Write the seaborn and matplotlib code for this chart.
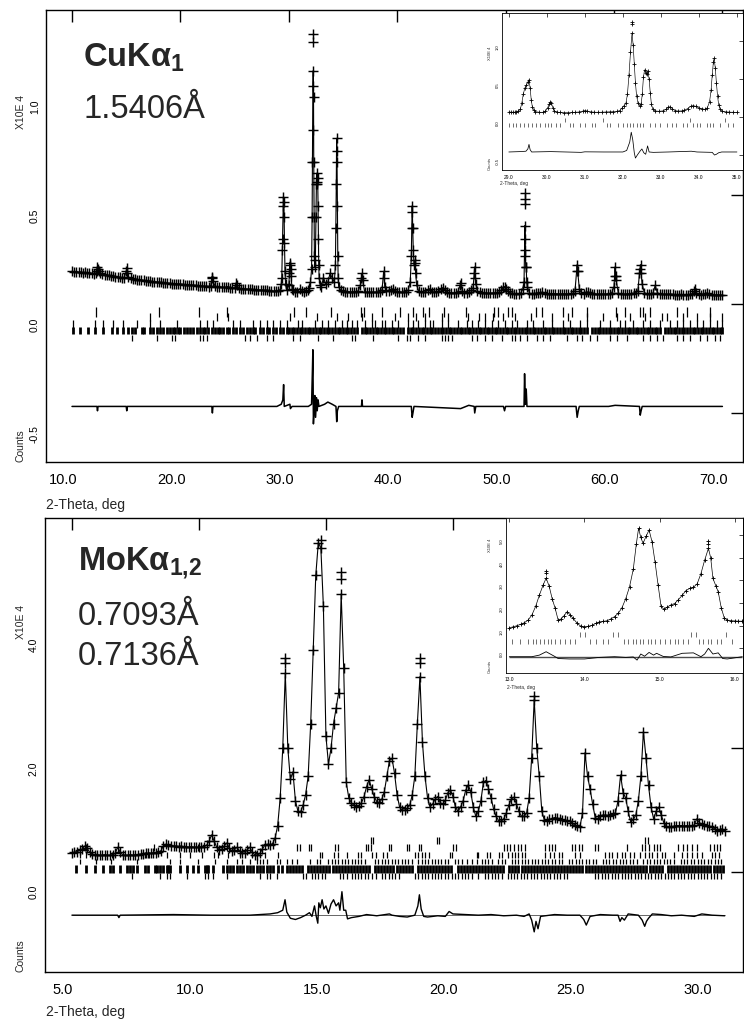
import numpy as np
import pandas as pd
import matplotlib
matplotlib.use("Agg")
import matplotlib.pyplot as plt
import matplotlib.transforms as mtransforms
import seaborn as sns

##### Data (intensities in units of 10^4 counts) ############################

# CuKa1 step scan, 10-70 deg every 0.2 deg
cu_start, cu_step = 10.0, 0.2
cu_counts = [
    0.150, 0.148, 0.149, 0.146, 0.147, 0.144, 0.145, 0.142, 0.143, 0.140,
    0.139, 0.141, 0.160, 0.142, 0.136, 0.134, 0.133, 0.131, 0.129, 0.128,
    0.126, 0.124, 0.123, 0.121, 0.120, 0.150, 0.125, 0.117, 0.116, 0.114,
    0.112, 0.111, 0.110, 0.108, 0.107, 0.106, 0.105, 0.103, 0.102, 0.101,
    0.100, 0.099, 0.098, 0.097, 0.096, 0.095, 0.094, 0.094, 0.093, 0.092,
    0.091, 0.090, 0.089, 0.088, 0.088, 0.087, 0.086, 0.085, 0.084, 0.083,
    0.082, 0.081, 0.081, 0.080, 0.084, 0.105, 0.082, 0.079, 0.078, 0.077,
    0.076, 0.076, 0.080, 0.075, 0.074, 0.074, 0.088, 0.073, 0.071, 0.070,
    0.069, 0.068, 0.068, 0.067, 0.066, 0.065, 0.064, 0.064, 0.063, 0.062,
    0.063, 0.061, 0.060, 0.059, 0.060, 0.060, 0.066, 0.250, 0.280, 0.062,
    0.085, 0.130, 0.062, 0.056, 0.057, 0.070, 0.058, 0.056, 0.058, 0.062,
    0.100, 0.800, 0.170, 0.560, 0.120, 0.080, 0.120, 0.090, 0.100, 0.140,
    0.120, 0.100, 0.700, 0.080, 0.062, 0.058, 0.057, 0.056, 0.056, 0.055,
    0.055, 0.056, 0.060, 0.085, 0.110, 0.056, 0.054, 0.054, 0.053, 0.054,
    0.054, 0.055, 0.057, 0.065, 0.120, 0.060, 0.058, 0.062, 0.070, 0.060,
    0.056, 0.055, 0.054, 0.055, 0.057, 0.062, 0.100, 0.420, 0.190, 0.085,
    0.058, 0.055, 0.053, 0.054, 0.065, 0.070, 0.054, 0.053, 0.055, 0.058,
    0.068, 0.075, 0.066, 0.056, 0.052, 0.051, 0.050, 0.051, 0.056, 0.085,
    0.060, 0.052, 0.051, 0.055, 0.062, 0.075, 0.120, 0.060, 0.053, 0.051,
    0.050, 0.050, 0.049, 0.049, 0.050, 0.050, 0.052, 0.055, 0.065, 0.078,
    0.070, 0.058, 0.052, 0.049, 0.048, 0.048, 0.048, 0.050, 0.070, 0.300,
    0.080, 0.050, 0.048, 0.048, 0.049, 0.050, 0.052, 0.055, 0.050, 0.048,
    0.047, 0.047, 0.048, 0.047, 0.046, 0.046, 0.046, 0.047, 0.046, 0.046,
    0.047, 0.049, 0.060, 0.180, 0.070, 0.050, 0.048, 0.053, 0.055, 0.050,
    0.046, 0.046, 0.045, 0.045, 0.045, 0.046, 0.045, 0.046, 0.048, 0.052,
    0.080, 0.110, 0.050, 0.046, 0.045, 0.045, 0.046, 0.047, 0.048, 0.050,
    0.052, 0.060, 0.160, 0.090, 0.052, 0.048, 0.046, 0.046, 0.050, 0.085,
    0.052, 0.046, 0.045, 0.044, 0.044, 0.044, 0.045, 0.044, 0.043, 0.043,
    0.043, 0.044, 0.043, 0.043, 0.043, 0.044, 0.046, 0.060, 0.052, 0.044,
    0.043, 0.044, 0.046, 0.052, 0.045, 0.043, 0.043, 0.042, 0.042, 0.041,
    0.041,
]
# extra points read inside the sharp Cu peaks
cu_peak_tth = [
    12.3, 12.35, 12.45, 15.05, 15.1, 22.9, 22.95, 25.15,
    29.3, 29.35, 29.42, 29.47, 29.5, 29.53, 29.57, 29.65, 29.7,
    30.05, 30.1, 30.13, 30.16, 30.3,
    31.9, 32.1, 32.15, 32.18, 32.22, 32.25, 32.28, 32.3, 32.33, 32.36,
    32.45, 32.5, 32.53, 32.56, 32.63, 32.66, 32.7, 32.73, 32.76, 32.9,
    34.3, 34.34, 34.38, 34.42, 34.45, 34.48, 34.52, 34.55,
    36.7, 36.75, 38.75, 38.85,
    41.3, 41.35, 41.38, 41.43, 41.48, 41.55, 41.65, 41.7,
    45.85, 47.1, 47.15, 47.25, 49.9,
    51.7, 51.75, 51.78, 51.82, 51.86, 51.9, 51.95,
    56.55, 56.65, 60.05, 60.1, 60.15, 62.35, 62.45, 62.5, 67.5,
]
cu_peak_counts = [
    0.150, 0.170, 0.150, 0.165, 0.140, 0.125, 0.118, 0.098,
    0.090, 0.120, 0.300, 0.450, 0.490, 0.470, 0.400, 0.150, 0.090,
    0.140, 0.190, 0.180, 0.160, 0.070,
    0.075, 0.160, 0.400, 0.650, 1.000, 1.070, 0.950, 0.650, 0.400, 0.220,
    0.200, 0.400, 0.550, 0.600, 0.550, 0.580, 0.450, 0.300, 0.180, 0.085,
    0.180, 0.350, 0.550, 0.760, 0.650, 0.450, 0.220, 0.120,
    0.120, 0.140, 0.150, 0.080,
    0.220, 0.350, 0.450, 0.350, 0.250, 0.180, 0.200, 0.140,
    0.095, 0.140, 0.170, 0.090, 0.080,
    0.100, 0.250, 0.360, 0.220, 0.170, 0.170, 0.100,
    0.150, 0.150, 0.130, 0.170, 0.130, 0.140, 0.180, 0.140, 0.070,
]
# observed points standing above the calculated curve
cu_high_tth = [32.25, 32.25, 51.78, 51.78, 51.78]
cu_high_counts = [1.24, 1.20, 0.51, 0.48, 0.46]

cu_diff_tth = [
    10.0, 12.3, 12.35, 12.4, 15.0, 15.05, 15.1, 22.9, 22.95, 23.0, 28.9, 29.3,
    29.45, 29.52, 29.58, 30.1, 30.15, 30.3, 31.8, 32.1, 32.18, 32.22, 32.27,
    32.32, 32.4, 32.47, 32.55, 32.62, 32.7, 32.78, 33.3, 33.6, 34.0, 34.35,
    34.42, 34.48, 34.6, 36.7, 36.75, 36.8, 41.3, 41.38, 41.45, 41.55, 45.85,
    46.6, 47.1, 47.15, 47.25, 49.8, 49.9, 50.0, 51.7, 51.75, 51.82, 51.9,
    51.97, 56.5, 56.6, 56.7, 56.8, 59.5, 60.1, 62.35, 62.42, 62.5, 62.6, 70.0,
]
cu_diff = [
    -0.47, -0.47, -0.49, -0.47, -0.47, -0.49, -0.47, -0.47, -0.50, -0.47, -0.47, -0.46,
    -0.44, -0.37, -0.47, -0.46, -0.48, -0.47, -0.47, -0.46, -0.30, -0.21, -0.55,
    -0.50, -0.42, -0.52, -0.43, -0.49, -0.44, -0.47, -0.46, -0.45, -0.46, -0.47,
    -0.54, -0.49, -0.47, -0.47, -0.44, -0.47, -0.47, -0.52, -0.50, -0.47, -0.48,
    -0.465, -0.47, -0.50, -0.47, -0.47, -0.49, -0.47, -0.47, -0.32, -0.46, -0.39,
    -0.47, -0.47, -0.52, -0.49, -0.47, -0.47, -0.465, -0.47, -0.51, -0.49, -0.47, -0.47,
]

# reflection markers, one list per row of ticks
cu_hkl_a = [12.2, 18.05, 21.75, 24.3, 30.5, 31.6, 33.9, 36.7, 36.9, 38.6, 40.3,
            41.5, 42.4, 42.9, 44.3, 46.3, 48.9, 49.3, 50.2, 50.6, 52.8, 53.4,
            55.3, 56.1, 57.5, 60.2, 61.0, 62.4, 62.7, 63.3, 65.8, 66.7, 68.9]
cu_hkl_b = [17.2, 23.4, 24.4, 30.1, 32.6, 34.4, 35.5, 36.75, 37.7, 39.8, 41.0,
            41.7, 42.6, 44.1, 44.7, 46.5, 47.5, 48.1, 48.8, 49.8, 50.9, 52.3,
            54.3, 55.8, 57.5, 59.0, 60.3, 61.5, 62.9, 64.4, 64.9, 66.4, 67.7,
            68.9, 70.0]
cu_hkl_c = [10.06, 12.12, 12.89, 13.81, 14.74, 15.97, 17.2, 18.12, 19.66, 21.81,
            22.42, 23.04, 24.88, 25.5, 26.73, 27.34, 27.96, 28.57, 29.19, 29.8,
            30.88, 31.19, 32.42, 33.03, 33.65, 34.26, 34.88, 35.34, 35.8, 36.26,
            37.03, 37.65, 37.95, 38.57, 38.88, 39.49, 40.11, 41.03, 41.49, 41.95,
            42.56, 43.03, 43.33, 44.1, 44.72, 45.64, 46.41, 46.87, 47.48, 48.1,
            48.72, 49.33, 49.95, 50.56, 51.03, 51.95, 52.56, 53.49, 54.25, 55.33,
            55.95, 56.87, 57.48, 58.71, 59.63, 60.56, 61.02, 61.79, 62.71, 63.33,
            64.25, 65.17, 65.79, 66.4, 67.02, 67.63, 68.25, 68.86, 69.48, 69.94]
cu_hkl_d = [10.06, 10.74, 11.45, 12.13, 12.86, 13.67, 14.13, 14.71, 15.17, 15.51,
            15.81, 16.44, 16.6, 17.2, 17.5, 17.82, 18.08, 18.4, 18.73, 19.03,
            19.3, 19.5, 19.8, 19.96, 20.3, 20.57, 20.9, 21.16, 21.5, 21.8,
            22.08, 22.3, 22.55, 22.9, 23.19, 23.45, 23.65, 23.9, 24.27, 24.5,
            24.85, 25.1, 25.5, 25.8, 26.12, 26.4, 26.7, 26.9, 27.34, 27.6,
            27.96, 28.2, 28.54, 28.8, 29.19, 29.45, 29.8,
            30.0, 30.25, 30.5, 30.75, 31.0, 31.25, 31.5, 31.75, 32.0, 32.25,
            32.5, 32.75, 33.0, 33.25, 33.5, 33.75, 34.0, 34.25, 34.5, 34.75,
            35.0, 35.25, 35.5, 35.75, 36.0, 36.25, 36.75, 37.0, 37.25, 37.5,
            37.75, 38.0, 38.25, 38.5, 38.75, 39.0, 39.25, 39.5, 39.75, 40.0,
            40.25, 40.5, 41.0, 41.25, 41.5, 41.75, 42.0, 42.25, 42.5, 42.75,
            43.0, 43.25, 43.5, 43.75, 44.0, 44.25, 44.5, 44.75, 45.0, 45.25,
            45.5, 45.75, 46.0, 46.25, 46.5, 46.75, 47.0, 47.25, 47.5, 47.75,
            48.0, 48.25, 48.5, 48.75, 49.0, 49.25, 49.5, 49.75, 50.0, 50.25,
            50.5, 50.75, 51.0, 51.25, 51.5, 51.75, 52.0, 52.25, 52.5, 52.75,
            53.0, 53.25, 53.5, 53.75, 54.0, 54.25, 54.5, 54.75, 55.0, 55.25,
            55.5, 55.75, 56.0, 56.25, 56.5, 56.75, 57.0, 57.25, 57.5, 58.0,
            58.25, 58.5, 58.75, 59.0, 59.25, 59.5, 59.75, 60.0, 60.25, 60.5,
            60.75, 61.0, 61.25, 61.5, 61.75, 62.0, 62.25, 62.5, 62.75, 63.0,
            63.25, 63.5, 63.75, 64.0, 64.25, 64.75, 65.0, 65.25, 65.5, 65.75,
            66.0, 66.25, 66.5, 66.75, 67.0, 67.25, 67.5, 67.75, 68.0, 68.25,
            68.5, 68.75, 69.0, 69.25, 69.5, 69.75, 70.0]
cu_hkl_e = [15.5, 17.81, 19.2, 19.5, 21.81, 22.12, 22.42, 25.96, 26.42, 27.04,
            27.96, 28.57, 30.42, 31.03, 32.73, 34.11, 35.8, 36.11, 37.8, 40.11,
            40.87, 41.18, 41.95, 42.56, 44.1, 44.41, 44.72, 45.03, 46.87, 47.33,
            48.1, 48.72, 49.64, 50.56, 50.87, 51.33, 51.95, 52.87, 53.49, 54.1,
            55.64, 56.56, 57.02, 57.79, 58.41, 59.63, 60.25, 61.17, 62.71, 63.33,
            63.94, 64.56, 65.79, 66.4, 67.02, 67.94, 68.55, 69.32, 69.78]

# Cu inset, 29-35 deg
cu_zoom_tth = [
    29.00, 29.05, 29.10, 29.15, 29.20, 29.25, 29.30, 29.34, 29.38, 29.42,
    29.46, 29.50, 29.53, 29.56, 29.59, 29.62, 29.66, 29.70, 29.80, 29.90,
    29.96, 30.02, 30.06, 30.09, 30.12, 30.16, 30.20, 30.26, 30.35, 30.45,
    30.55, 30.65, 30.75, 30.85, 30.95, 31.00, 31.05, 31.15, 31.25, 31.35,
    31.45, 31.55, 31.65, 31.75, 31.85, 31.92, 31.98, 32.03, 32.08, 32.12,
    32.16, 32.20, 32.24, 32.27, 32.30, 32.33, 32.36, 32.40, 32.44, 32.48,
    32.51, 32.54, 32.57, 32.60, 32.63, 32.66, 32.69, 32.72, 32.75, 32.79,
    32.85, 32.95, 33.05, 33.13, 33.20, 33.25, 33.30, 33.37, 33.45, 33.55,
    33.62, 33.70, 33.78, 33.85, 33.92, 34.00, 34.08, 34.15, 34.22, 34.28,
    34.32, 34.35, 34.38, 34.40, 34.43, 34.46, 34.49, 34.52, 34.56, 34.62,
    34.70, 34.80, 34.90, 35.00,
]
cu_zoom_counts = [
    0.065, 0.064, 0.063, 0.064, 0.068, 0.080, 0.10, 0.18, 0.30, 0.38,
    0.42, 0.46, 0.49, 0.38, 0.22, 0.13, 0.09, 0.07, 0.062, 0.062,
    0.075, 0.12, 0.17, 0.20, 0.18, 0.12, 0.08, 0.065, 0.060, 0.058,
    0.058, 0.060, 0.062, 0.066, 0.078, 0.085, 0.080, 0.068, 0.063, 0.062,
    0.063, 0.066, 0.068, 0.070, 0.074, 0.085, 0.12, 0.15, 0.18, 0.30,
    0.55, 0.85, 1.10, 0.95, 0.70, 0.45, 0.28, 0.18, 0.15, 0.17,
    0.30, 0.52, 0.62, 0.58, 0.57, 0.60, 0.50, 0.32, 0.17, 0.10,
    0.08, 0.075, 0.08, 0.10, 0.13, 0.135, 0.11, 0.085, 0.078, 0.080,
    0.09, 0.11, 0.14, 0.15, 0.14, 0.12, 0.11, 0.10, 0.12, 0.20,
    0.35, 0.55, 0.72, 0.77, 0.65, 0.45, 0.28, 0.16, 0.10, 0.075,
    0.068, 0.064, 0.062, 0.060,
]
cu_zoom_high_tth = [32.24, 32.24]
cu_zoom_high_counts = [1.25, 1.22]
cu_zoom_diff_tth = [29.0, 29.3, 29.45, 29.5, 29.53, 29.56, 29.6, 30.1, 30.5, 30.9,
                    31.0, 31.5, 32.0, 32.1, 32.18, 32.22, 32.26, 32.3, 32.33, 32.38,
                    32.45, 32.5, 32.55, 32.6, 32.65, 32.69, 32.8, 33.2, 33.8, 33.95,
                    34.35, 34.41, 34.46, 34.52, 34.6, 35.0]
cu_zoom_diff = [-0.46, -0.455, -0.45, -0.42, -0.36, -0.43, -0.46, -0.455, -0.46, -0.465,
                -0.458, -0.46, -0.46, -0.44, -0.33, -0.20, -0.30, -0.47, -0.54, -0.50,
                -0.45, -0.42, -0.47, -0.49, -0.38, -0.46, -0.465, -0.46, -0.45, -0.46,
                -0.465, -0.50, -0.49, -0.47, -0.46, -0.46]
cu_zoom_hkl = [29.01, 29.11, 29.2, 29.29, 29.39, 29.51, 29.6, 29.71, 29.82, 29.95,
               30.04, 30.12, 30.25, 30.34, 30.6, 30.69, 30.87, 31.0, 31.18, 31.26,
               31.57, 31.66, 31.88, 32.01, 32.1, 32.19, 32.27, 32.36, 32.45, 32.54,
               32.71, 32.84, 32.97, 33.15, 33.28, 33.41, 33.59, 33.68, 33.85, 33.94,
               34.03, 34.2, 34.29, 34.38, 34.55, 34.77, 34.9]
cu_zoom_hkl_high = [30.47, 31.48, 33.76, 34.68]

# MoKa1,2 step scan, 5.0-30.7 deg every 0.1 deg
mo_start, mo_step = 5.0, 0.1
mo_counts = [
    0.31, 0.32, 0.33, 0.35, 0.37, 0.42, 0.38, 0.32, 0.29, 0.28,
    0.28, 0.27, 0.27, 0.28, 0.27, 0.27, 0.28, 0.30, 0.40, 0.32,
    0.28, 0.27, 0.27, 0.28, 0.27, 0.28, 0.28, 0.29, 0.29, 0.30,
    0.30, 0.30, 0.31, 0.31, 0.32, 0.34, 0.42, 0.45, 0.43, 0.42,
    0.42, 0.42, 0.41, 0.42, 0.41, 0.41, 0.40, 0.41, 0.40, 0.40,
    0.40, 0.41, 0.41, 0.43, 0.50, 0.60, 0.50, 0.40, 0.36, 0.37,
    0.42, 0.47, 0.38, 0.34, 0.36, 0.40, 0.34, 0.31, 0.30, 0.36,
    0.40, 0.32, 0.28, 0.27, 0.30, 0.37, 0.44, 0.45, 0.43, 0.46,
    0.55, 0.75, 1.20, 2.00, 3.22, 2.00, 1.50, 1.62, 1.15, 0.98,
    0.97, 1.08, 1.25, 1.55, 2.40, 3.60, 4.80, 5.33, 5.25, 4.30,
    2.20, 1.75, 2.00, 2.40, 2.65, 2.90, 4.50, 3.30, 1.45, 1.20,
    1.12, 1.08, 1.05, 1.07, 1.12, 1.22, 1.38, 1.49, 1.35, 1.22,
    1.14, 1.12, 1.18, 1.30, 1.55, 1.80, 1.84, 1.60, 1.25, 1.05,
    1.00, 1.00, 1.03, 1.08, 1.25, 1.55, 2.40, 3.16, 2.10, 1.55,
    1.20, 1.05, 1.10, 1.18, 1.22, 1.12, 1.10, 1.16, 1.28, 1.33,
    1.22, 1.05, 0.98, 1.05, 1.15, 1.32, 1.41, 1.30, 1.05, 0.90,
    0.98, 1.15, 1.45, 1.48, 1.35, 1.20, 1.02, 0.90, 0.83, 0.82,
    0.86, 0.95, 1.08, 1.18, 1.21, 1.10, 0.98, 0.90, 0.90, 0.95,
    1.20, 1.85, 2.79, 2.00, 1.55, 0.98, 0.84, 0.83, 0.85, 0.86,
    0.88, 0.87, 0.85, 0.84, 0.84, 0.83, 0.82, 0.79, 0.76, 0.74,
    0.73, 0.95, 1.93, 1.55, 1.34, 1.10, 0.88, 0.86, 0.90, 0.92,
    0.92, 0.91, 0.92, 0.93, 0.96, 1.15, 1.57, 1.28, 1.20, 0.98,
    0.81, 0.85, 0.92, 1.15, 1.55, 2.27, 1.85, 1.40, 1.05, 0.86,
    0.98, 1.05, 0.92, 0.80, 0.74, 0.72, 0.73, 0.74, 0.75, 0.75,
    0.75, 0.74, 0.75, 0.74, 0.74, 0.76, 0.86, 0.80, 0.77, 0.76,
    0.75, 0.74, 0.72, 0.70, 0.67, 0.68, 0.70, 0.66,
]
mo_high_tth = [13.4, 13.4, 14.8, 15.6, 15.6, 18.7, 18.7, 23.2]
mo_high_counts = [3.46, 3.38, 5.38, 4.85, 4.75, 3.47, 3.38, 2.85]

mo_diff_tth = [
    5.0, 6.8, 6.85, 6.9, 9.0, 10.5, 12.0, 12.8, 13.1, 13.3, 13.39, 13.46,
    13.6, 13.8, 14.0, 14.2, 14.35, 14.45, 14.55, 14.62, 14.68, 14.72, 14.78,
    14.85, 14.92, 15.0, 15.1, 15.2, 15.3, 15.4, 15.5, 15.55, 15.63, 15.7,
    15.78, 15.85, 16.0, 16.3, 16.6, 17.0, 17.5, 17.6, 17.9, 18.2, 18.5,
    18.62, 18.68, 18.75, 18.85, 19.0, 19.4, 19.7, 19.85, 20.0, 20.5, 21.0,
    21.5, 22.0, 22.5, 22.8, 23.0, 23.1, 23.2, 23.27, 23.35, 23.45, 24.0,
    24.5, 25.0, 25.15, 25.25, 25.4, 25.8, 26.3, 26.5, 26.58, 26.65, 26.75,
    26.9, 27.3, 27.45, 27.55, 27.62, 27.7, 27.85, 28.2, 28.6, 29.0, 29.5,
    29.8, 30.2, 30.7,
]
mo_diff = [
    -0.70, -0.70, -0.74, -0.70, -0.69, -0.70, -0.70, -0.68, -0.66, -0.62, -0.45, -0.65,
    -0.75, -0.77, -0.74, -0.70, -0.66, -0.72, -0.55, -0.72, -0.83, -0.50, -0.58,
    -0.45, -0.60, -0.55, -0.67, -0.52, -0.45, -0.55, -0.50, -0.62, -0.32, -0.62,
    -0.62, -0.76, -0.74, -0.72, -0.69, -0.71, -0.68, -0.70, -0.72, -0.73, -0.70,
    -0.55, -0.37, -0.60, -0.72, -0.73, -0.71, -0.72, -0.64, -0.68, -0.69, -0.70,
    -0.69, -0.71, -0.70, -0.72, -0.68, -0.78, -0.97, -0.80, -0.92, -0.72, -0.69,
    -0.70, -0.70, -0.77, -0.86, -0.72, -0.69, -0.70, -0.70, -0.80, -0.74, -0.78,
    -0.68, -0.70, -0.78, -0.88, -0.80, -0.75, -0.68, -0.69, -0.71, -0.70, -0.72,
    -0.68, -0.70, -0.71,
]

mo_hkl_1 = [16.77, 16.86, 19.37, 19.46, 27.57, 27.68]
mo_hkl_2 = [5.55, 8.25, 9.97, 11.12, 13.88, 13.98, 14.33, 14.41, 15.35, 15.46,
            16.56, 16.67, 16.79, 17.47, 17.58, 18.19, 18.28, 18.65, 18.76, 20.02,
            20.11, 22.0, 22.13, 22.26, 22.39, 22.56, 22.69, 22.85, 23.63, 23.77,
            23.9, 24.03, 24.68, 24.82, 24.95, 25.08, 25.6, 25.73, 26.85, 27.44,
            27.57, 27.7, 27.9, 28.03, 28.16, 28.88, 29.04, 29.21, 29.41, 29.6,
            30.13, 30.26, 30.39, 30.52]
mo_hkl_3 = [5.31, 5.55, 5.97, 6.56, 7.81, 7.87, 8.03, 8.73, 9.25, 9.65, 10.11,
            10.59, 10.76, 11.15, 11.61, 12.07, 12.6, 13.1, 14.76, 14.83, 15.33,
            15.49, 15.81, 16.27, 16.38, 16.82, 16.96, 17.26, 17.4, 18.5, 18.64,
            18.78, 18.91, 19.06, 19.88, 19.96, 20.93, 21.0, 21.33, 21.46, 21.8,
            21.95, 22.15, 22.31, 22.45, 22.58, 22.72, 22.85, 23.63, 23.83, 23.96,
            24.16, 24.29, 24.82, 25.01, 26.0, 26.13, 26.26, 26.46, 26.65, 26.78,
            26.98, 27.11, 27.37, 27.57, 27.7, 27.83, 28.03, 28.23, 28.36, 28.69,
            29.01, 29.21, 29.41, 29.6, 29.8, 30.2, 30.33, 30.46]
mo_hkl_4 = [5.31, 5.94, 6.52, 7.55, 8.86, 9.25, 9.97, 10.63, 11.09, 11.48, 11.68,
            12.01, 12.27, 12.4, 12.53, 12.67, 13.06, 13.19, 13.45, 13.65, 13.88,
            14.37, 14.63, 14.76, 15.09, 15.22, 15.35, 15.49, 15.62, 15.75, 15.88,
            16.01, 16.14, 16.27, 16.4, 16.54, 16.93, 17.06, 17.19, 17.32, 17.45,
            17.59, 17.72, 17.85, 17.98, 18.11, 18.24, 18.37, 18.64, 18.77, 18.9,
            19.03, 19.16, 19.29, 19.42, 19.55, 19.69, 19.82, 20.08, 20.21, 20.34,
            20.54, 20.74, 20.93, 21.13, 21.26, 21.39, 21.52, 21.79, 21.92, 22.05,
            22.31, 22.44, 22.57, 22.7, 22.83, 22.96, 23.1, 23.23, 23.36, 23.5,
            23.63, 23.76, 23.9, 24.03, 24.16, 24.3, 24.56, 24.7, 24.83, 24.96,
            25.1, 25.23, 25.36, 25.5, 25.63, 25.9, 26.03, 26.16, 26.3, 26.43,
            26.56, 26.7, 26.83, 26.96, 27.1, 27.23, 27.5, 27.63, 27.76, 27.9,
            28.03, 28.16, 28.3, 28.43, 28.56, 28.7, 28.96, 29.1, 29.23, 29.36,
            29.5, 29.63, 29.76, 29.9, 30.03, 30.16, 30.3, 30.43, 30.56]
mo_hkl_5 = [5.16, 5.55, 5.91, 6.21, 6.5, 6.63, 6.89, 7.15, 7.28, 7.41, 7.55,
            7.87, 8.0, 8.27, 8.36, 8.46, 8.57, 8.73, 8.79, 8.86, 9.25, 9.52,
            9.78, 9.97, 10.24, 10.3, 10.37, 10.56, 10.96, 11.09, 11.22, 11.35,
            11.48, 11.61, 11.74, 11.88, 12.0, 12.14, 12.27, 12.4, 12.53, 12.67,
            12.8, 12.93, 13.12, 13.26, 13.45, 13.58,
            13.7, 13.82, 13.94, 14.06, 14.3, 14.42, 14.54, 14.66, 14.78, 14.9,
            15.02, 15.14, 15.26, 15.38, 15.5, 15.62, 15.74, 15.86, 15.98, 16.1,
            16.22, 16.34, 16.46, 16.58, 16.7, 16.94, 17.06, 17.18, 17.3, 17.42,
            17.54, 17.66, 17.78, 17.9, 18.02, 18.14, 18.26, 18.38, 18.62, 18.74,
            18.86, 18.98, 19.1, 19.22, 19.34, 19.46, 19.58, 19.7, 19.82, 19.94,
            20.18, 20.3, 20.42, 20.54, 20.66, 20.78, 20.9, 21.02, 21.14, 21.26,
            21.38, 21.5, 21.62, 21.74, 21.86, 21.98, 22.22, 22.34, 22.46, 22.58,
            22.7, 22.82, 22.94, 23.06, 23.18, 23.3, 23.42, 23.54, 23.66, 23.78,
            23.9, 24.02, 24.14, 24.26, 24.38, 24.5, 24.62, 24.74, 24.86, 24.98,
            25.1, 25.22, 25.34, 25.46, 25.58, 25.7, 25.82, 25.94, 26.06, 26.18,
            26.3, 26.42, 26.54, 26.66, 26.78, 26.9, 27.02, 27.14, 27.26, 27.38,
            27.5, 27.62, 27.74, 27.86, 27.98, 28.1, 28.22, 28.46, 28.58, 28.7,
            28.82, 28.94, 29.06, 29.18, 29.3, 29.42, 29.54, 29.66, 29.78, 29.9,
            30.02, 30.14, 30.26, 30.38, 30.5, 30.62]
mo_hkl_6 = [7.35, 8.46, 8.73, 8.86, 9.52, 10.24, 10.37, 10.56, 11.09, 12.4, 12.67,
            12.8, 13.06, 14.11, 14.2, 14.44, 14.57, 14.7, 14.83, 14.96, 15.55,
            15.68, 15.81, 16.01, 16.14, 16.27, 16.4, 16.54, 16.67, 16.82, 16.99,
            17.19, 17.32, 17.47, 17.6, 17.73, 17.86, 18.5, 18.64, 18.77, 18.9,
            19.03, 19.16, 19.29, 19.42, 19.55, 19.69, 19.82, 19.95, 20.08, 20.21,
            20.34, 20.47, 20.6, 20.74, 21.0, 21.26, 21.39, 21.52, 21.65, 21.79,
            21.92, 22.15, 22.28, 22.41, 22.54, 22.67, 22.8, 22.93, 23.06, 23.19,
            23.32, 23.45, 23.58, 23.71, 23.84, 23.97, 24.1, 24.23, 24.36, 24.49,
            25.6, 25.73, 25.86, 25.99, 26.12, 26.25, 26.38, 26.51, 26.64, 26.77,
            26.9, 27.03, 27.16, 27.29, 27.42, 27.55, 27.68, 27.81, 27.94, 28.07,
            28.2, 28.33, 28.46, 28.59, 28.72, 28.85, 28.98, 29.11, 29.24, 29.37,
            29.5, 29.63, 29.76, 29.89, 30.02, 30.15, 30.28, 30.41, 30.54]

# Mo inset, 13-16 deg
mo_zoom_tth = [
    13.00, 13.05, 13.10, 13.15, 13.20, 13.25, 13.30, 13.35, 13.40, 13.45,
    13.49, 13.53, 13.57, 13.61, 13.65, 13.69, 13.73, 13.77, 13.81, 13.85,
    13.90, 13.95, 14.00, 14.05, 14.10, 14.15, 14.20, 14.25, 14.30, 14.35,
    14.40, 14.45, 14.50, 14.55, 14.60, 14.65, 14.69, 14.72, 14.75, 14.78,
    14.82, 14.86, 14.90, 14.94, 14.98, 15.02, 15.06, 15.10, 15.15, 15.20,
    15.25, 15.30, 15.35, 15.40, 15.45, 15.50, 15.55, 15.60, 15.65, 15.68,
    15.71, 15.75, 15.78, 15.82, 15.86, 15.90, 15.95, 16.00, 16.05, 16.10,
]
mo_zoom_counts = [
    0.91, 0.95, 1.00, 1.06, 1.13, 1.25, 1.47, 1.85, 2.35, 2.80,
    3.10, 2.75, 2.20, 1.77, 1.25, 1.30, 1.45, 1.62, 1.48, 1.32,
    1.12, 0.98, 0.96, 0.97, 1.02, 1.10, 1.17, 1.19, 1.22, 1.30,
    1.40, 1.55, 1.80, 2.20, 2.72, 3.50, 4.60, 5.30, 4.90, 4.64,
    4.95, 5.23, 4.70, 3.80, 2.80, 1.85, 1.72, 1.82, 1.92, 1.98,
    2.15, 2.34, 2.55, 2.65, 2.70, 2.85, 3.30, 3.90, 4.42, 4.00,
    3.09, 2.75, 2.50, 1.80, 1.35, 1.25, 1.22, 1.21, 1.20, 1.20,
]
mo_zoom_high_tth = [13.49, 13.49, 15.65, 15.65]
mo_zoom_high_counts = [3.42, 3.31, 4.74, 4.60]
mo_zoom_diff_tth = [13.0, 13.3, 13.4, 13.49, 13.6, 13.65, 13.8, 14.0, 14.2, 14.4,
                    14.55, 14.65, 14.7, 14.75, 14.8, 14.86, 14.92, 14.96, 15.05, 15.15,
                    15.3, 15.45, 15.55, 15.6, 15.65, 15.71, 15.78, 15.84, 15.9, 16.1]
mo_zoom_diff = [-0.37, -0.37, -0.30, -0.15, -0.35, -0.45, -0.47, -0.47, -0.40, -0.37,
                -0.40, -0.38, -0.52, -0.25, -0.35, -0.18, -0.30, -0.22, -0.36, -0.38,
                -0.22, -0.20, -0.37, -0.25, 0.00, -0.25, -0.20, -0.45, -0.47, -0.37]
mo_zoom_hkl = [13.04, 13.14, 13.25, 13.32, 13.36, 13.41, 13.46, 13.51, 13.56, 13.61,
               13.67, 13.74, 13.81, 13.87, 14.07, 14.16, 14.25, 14.32, 14.52, 14.58,
               14.65, 14.69, 14.74, 14.78, 14.85, 14.89, 14.94, 15.0, 15.07, 15.14,
               15.2, 15.25, 15.31, 15.38, 15.53, 15.58, 15.65, 15.69, 15.76, 15.82,
               15.96]
mo_zoom_hkl_high = [13.94, 14.01, 14.38, 14.45, 15.42, 15.49, 15.89]

##### Style ##################################################################

sns.set_style("white")
plt.rcParams["font.family"] = ["Liberation Sans", "DejaVu Sans"]
plt.rcParams["mathtext.fontset"] = "custom"
plt.rcParams["mathtext.rm"] = "Liberation Sans"
plt.rcParams["mathtext.bf"] = "Liberation Sans:bold"
plt.rcParams["mathtext.it"] = "Liberation Sans:italic"
NARROW = ["Liberation Sans Narrow", "Liberation Sans", "DejaVu Sans"]
REGULAR = ["Liberation Sans", "DejaVu Sans"]

W, H = 744, 1019
fig = plt.figure(figsize=(W / 100, H / 100), dpi=100)


def px_rect(left, top, right, bottom):
    return [left / W, 1 - bottom / H, (right - left) / W, (bottom - top) / H]


def fig_text(x, y, s, **kw):
    fig.text(x / W, 1 - y / H, s, **kw)


def frame(tth, counts):
    return pd.DataFrame({"tth": tth, "counts": counts})


def draw_pattern(ax, prof, high, diff, rows, cross, lw, dlw, zero=None, zero_lw=0.6):
    prof = prof.sort_values("tth")
    obs = pd.concat([prof, high])
    sns.scatterplot(data=obs, x="tth", y="counts", ax=ax, marker="+",
                    color="black", s=cross, linewidth=lw * 1.3, zorder=3)
    sns.lineplot(data=prof, x="tth", y="counts", ax=ax, color="black",
                 linewidth=lw, estimator=None, sort=False, zorder=4)
    if zero is not None:
        ax.hlines(zero, diff["tth"].min(), diff["tth"].max(),
                  colors="0.3", linewidth=zero_lw, zorder=2)
    sns.lineplot(data=diff, x="tth", y="counts", ax=ax, color="black",
                 linewidth=dlw, estimator=None, sort=False, zorder=4)
    for pos, lo, hi, w in rows:
        ax.vlines(pos, lo, hi, colors="black", linewidth=w, zorder=2)
    ax.set_xlabel("")
    ax.set_ylabel("")


def style_axes(ax, xlim, ylim, xticks, yticks, tick_len, tick_w, spine_w,
               xsize, ysize, xpad, ypad, xshift, yshift):
    ax.set_xlim(*xlim)
    ax.set_ylim(*ylim)
    ax.set_xticks(xticks, labels=[f"{t:.1f}" for t in xticks])
    ax.set_yticks(yticks, labels=[f"{t:.1f}" for t in yticks])
    ax.tick_params(direction="in", length=tick_len, width=tick_w,
                   top=True, right=True, colors="black")
    ax.tick_params(axis="x", pad=xpad)
    ax.tick_params(axis="y", pad=ypad, labelrotation=90)
    for s in ax.spines.values():
        s.set_linewidth(spine_w)
        s.set_color("black")
    off_x = mtransforms.ScaledTranslation(xshift / 100, 0, fig.dpi_scale_trans)
    for lab in ax.get_xticklabels():
        lab.set_transform(lab.get_transform() + off_x)
        lab.set_fontfamily(NARROW)
        lab.set_fontsize(xsize)
    off_y = mtransforms.ScaledTranslation(0, -yshift / 100, fig.dpi_scale_trans)
    for lab in ax.get_yticklabels():
        lab.set_transform(lab.get_transform() + off_y)
        lab.set_fontfamily(REGULAR)
        lab.set_fontsize(ysize)
        lab.set_va("center")


##### CuKa1 panel ############################################################

cu_grid = cu_start + cu_step * np.arange(len(cu_counts))
cu_prof = pd.concat([frame(cu_grid, cu_counts), frame(cu_peak_tth, cu_peak_counts)])

ax1 = fig.add_axes(px_rect(46, 10, 743, 462))
draw_pattern(ax1, cu_prof, frame(cu_high_tth, cu_high_counts),
             frame(cu_diff_tth, cu_diff),
             [(cu_hkl_a, -0.060, -0.015, 0.9), (cu_hkl_b, -0.078, -0.042, 0.9),
              (cu_hkl_c, -0.112, -0.075, 0.9), (cu_hkl_d, -0.138, -0.107, 2.0),
              (cu_hkl_e, -0.170, -0.140, 0.9)],
             cross=42, lw=0.8, dlw=1.1)
style_axes(ax1, (7.60, 71.90), (-0.725, 1.349),
           [10, 20, 30, 40, 50, 60, 70], [-0.5, 0.0, 0.5, 1.0],
           tick_len=8.5, tick_w=1.0, spine_w=1.0, xsize=10.5, ysize=7.5,
           xpad=8, ypad=4.5, xshift=-9, yshift=21)

fig_text(21, 112, "X10E 4", rotation=90, ha="center", va="center", fontsize=7.5)
fig_text(21, 462, "Counts", rotation=90, ha="center", va="bottom", fontsize=7.5)
fig_text(46, 505, "2-Theta, deg", ha="left", va="center", fontsize=10,
         family=NARROW)
fig_text(83, 67, r"CuK$\mathbf{\alpha_1}$", fontsize=23.5, fontweight="bold",
         va="baseline")
fig_text(83, 118, "1.5406Å", fontsize=23.5, va="baseline")

ax1i = fig.add_axes(px_rect(502, 13, 743, 170))
ax1i.set_facecolor("white")
draw_pattern(ax1i, frame(cu_zoom_tth, cu_zoom_counts),
             frame(cu_zoom_high_tth, cu_zoom_high_counts),
             frame(cu_zoom_diff_tth, cu_zoom_diff),
             [(cu_zoom_hkl, -0.13, -0.08, 0.4), (cu_zoom_hkl_high, -0.07, -0.01, 0.4)],
             cross=6, lw=0.45, dlw=0.55)
style_axes(ax1i, (28.82, 35.16), (-0.697, 1.368),
           [29, 30, 31, 32, 33, 34, 35], [-0.5, 0.0, 0.5, 1.0],
           tick_len=3, tick_w=0.5, spine_w=0.6, xsize=3.5, ysize=3,
           xpad=3.5, ypad=1.5, xshift=0, yshift=6)
fig_text(490, 53, "X10E 4", rotation=90, ha="center", va="center", fontsize=3)
fig_text(490, 170, "Counts", rotation=90, ha="center", va="bottom", fontsize=3)
fig_text(500, 183, "2-Theta, deg", ha="left", va="center", fontsize=3.5,
         family=NARROW)

##### MoKa1,2 panel ##########################################################

mo_grid = mo_start + mo_step * np.arange(len(mo_counts))

ax2 = fig.add_axes(px_rect(45, 518, 743, 972))
draw_pattern(ax2, frame(mo_grid, mo_counts), frame(mo_high_tth, mo_high_counts),
             frame(mo_diff_tth, mo_diff),
             [(mo_hkl_1, 0.46, 0.57, 0.9), (mo_hkl_2, 0.34, 0.45, 0.9),
              (mo_hkl_3, 0.23, 0.32, 0.9), (mo_hkl_4, 0.13, 0.21, 0.9),
              (mo_hkl_5, -0.02, 0.11, 2.0), (mo_hkl_6, -0.11, -0.02, 0.9)],
             cross=42, lw=0.8, dlw=1.0, zero=-0.70)
style_axes(ax2, (3.94, 31.42), (-1.62, 5.73),
           [5, 10, 15, 20, 25, 30], [0.0, 2.0, 4.0],
           tick_len=8.5, tick_w=1.0, spine_w=1.0, xsize=10.5, ysize=7.5,
           xpad=8, ypad=4.5, xshift=-9, yshift=20)

fig_text(21, 622, "X10E 4", rotation=90, ha="center", va="center", fontsize=7.5)
fig_text(21, 972, "Counts", rotation=90, ha="center", va="bottom", fontsize=7.5)
fig_text(46, 1012, "2-Theta, deg", ha="left", va="center", fontsize=10,
         family=NARROW)
fig_text(78, 570, r"MoK$\mathbf{\alpha_{1{,}2}}$", fontsize=23.5, fontweight="bold",
         va="baseline")
fig_text(78, 625, "0.7093Å", fontsize=23.5, va="baseline")
fig_text(78, 665, "0.7136Å", fontsize=23.5, va="baseline")

ax2i = fig.add_axes(px_rect(506, 518, 743, 673))
ax2i.set_facecolor("white")
draw_pattern(ax2i, frame(mo_zoom_tth, mo_zoom_counts),
             frame(mo_zoom_high_tth, mo_zoom_high_counts),
             frame(mo_zoom_diff_tth, mo_zoom_diff),
             [(mo_zoom_hkl, 0.18, 0.42, 0.4), (mo_zoom_hkl_high, 0.48, 0.70, 0.4)],
             cross=6, lw=0.5, dlw=0.6, zero=-0.37, zero_lw=1.0)
style_axes(ax2i, (12.956, 16.11), (-1.09, 5.76),
           [13, 14, 15, 16], [0.0, 1.0, 2.0, 3.0, 4.0, 5.0],
           tick_len=3, tick_w=0.5, spine_w=0.6, xsize=3.5, ysize=3,
           xpad=3.2, ypad=1.5, xshift=0, yshift=6)
fig_text(490, 545, "X10E 4", rotation=90, ha="center", va="center", fontsize=3)
fig_text(490, 673, "Counts", rotation=90, ha="center", va="bottom", fontsize=3)
fig_text(507, 688, "2-Theta, deg", ha="left", va="center", fontsize=3.5,
         family=NARROW)

fig.savefig("out.png", dpi=100)
